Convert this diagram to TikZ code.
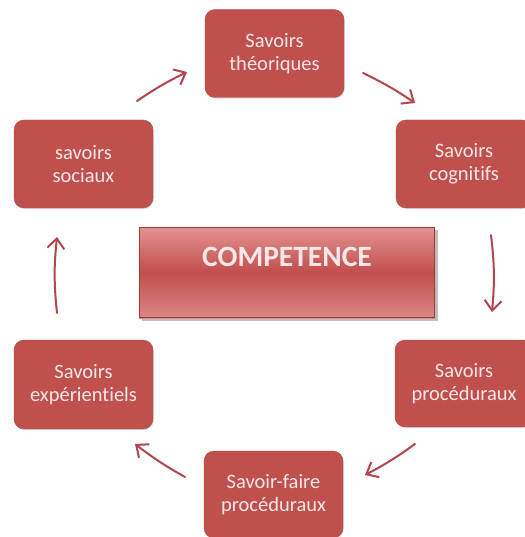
\documentclass[tikz,border=0pt]{standalone}
\usepackage{fontspec}
\setmainfont{Carlito}[Ligatures=NoCommon]
\usetikzlibrary{arrows.meta,shadows}
\definecolor{boxred}{RGB}{192,80,77}
\definecolor{boxtext}{RGB}{250,232,232}
\definecolor{arrowred}{RGB}{178,70,76}
\definecolor{comptop}{RGB}{226,146,144}
\definecolor{compmid}{RGB}{194,78,77}
\definecolor{compbot}{RGB}{218,136,134}
\definecolor{compborder}{RGB}{160,58,56}
\tikzset{
  savoir/.style={rectangle, rounded corners=10pt, fill=boxred, draw=boxred!90!black, line width=0.4pt,
    text=boxtext, align=center, font=\fontsize{20.5}{23}\selectfont,
    minimum width=139pt, minimum height=88pt, inner sep=0pt,
    drop shadow={opacity=0.2, shadow xshift=1pt, shadow yshift=-1.2pt}},
  cyc/.style={draw=arrowred, line width=2pt, line cap=round,
    -{Straight Barb[length=10pt,width=17pt,line width=2pt]}},
}
\begin{document}
\begin{tikzpicture}[x=1pt,y=1pt]
\useasboundingbox (0,0) rectangle (524,-537);
\fill[white] (0,0) rectangle (524,-537);
% boxes
\node[savoir] (theo) at (274.5,-53.5) {Savoirs\\théoriques};
\node[savoir, minimum width=136pt] (cog) at (464,-164) {Savoirs\\cognitifs};
\node[savoir, minimum width=138pt, minimum height=87pt] (proc) at (464,-383.5) {Savoirs\\procéduraux};
\node[savoir, minimum height=87pt] (sf) at (273.5,-494.5) {Savoir-faire\\procéduraux};
\node[savoir, minimum height=89pt] (exp) at (83.5,-384.5) {Savoirs\\expérientiels};
\node[savoir] (soc) at (83.5,-164) {savoirs\\sociaux};
% competence
\fill[black, opacity=0.25] (142,-230) rectangle (438,-321);
\shade[top color=comptop, bottom color=compbot, middle color=compmid] (139,-227) rectangle (435,-318);
\draw[compborder, line width=1pt] (139.5,-227.5) rectangle (434.5,-317.5);
\node[font=\bfseries\fontsize{29.5}{32}\selectfont, text=boxtext, inner sep=0pt] (comp) at (287,-257) {COMPETENCE};
% arrow endpoints
\coordinate (a1s) at (137,-101); \coordinate (a1e) at (187,-72);
\coordinate (a2s) at (363,-73);  \coordinate (a2e) at (415,-103);
\coordinate (a3s) at (491,-235); \coordinate (a3e) at (492,-312);
\coordinate (a4s) at (415,-444); \coordinate (a4e) at (365,-475);
\coordinate (a5s) at (185,-477); \coordinate (a5e) at (135,-444);
\coordinate (a6s) at (57,-313);  \coordinate (a6e) at (57,-237);
\draw[cyc] (a1s) to[bend left=4] (a1e);
\draw[cyc] (a2s) to[bend left=4] (a2e);
\draw[cyc] (a3s) to[bend left=6] (a3e);
\draw[cyc] (a4s) to[bend left=4] (a4e);
\draw[cyc] (a5s) to[bend left=4] (a5e);
\draw[cyc] (a6s) to[bend left=6] (a6e);
\end{tikzpicture}
\end{document}
